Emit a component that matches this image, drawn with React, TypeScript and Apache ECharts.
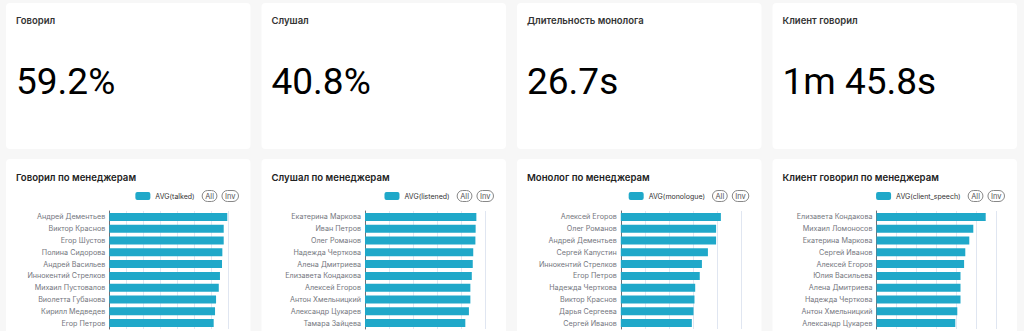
import React, { useEffect, useRef } from "react";
import * as echarts from "echarts";

const kpiTitles = ["Говорил", "Слушал", "Длительность монолога", "Клиент говорил"];
const kpiValues = ["59.2%", "40.8%", "26.7s", "1m 45.8s"];
const chartTitles = [
  "Говорил по менеджерам",
  "Слушал по менеджерам",
  "Монолог по менеджерам",
  "Клиент говорил по менеджерам",
];
const seriesNames = ["AVG(talked)", "AVG(listened)", "AVG(monologue)", "AVG(client_speech)"];

const talkedManagers = [
  "Андрей Дементьев", "Виктор Краснов", "Егор Шустов", "Полина Сидорова", "Андрей Васильев",
  "Иннокентий Стрелков", "Михаил Пустовалов", "Виолетта Губанова", "Кирилл Медведев", "Егор Петров",
];
const talkedValues = [0.694, 0.673, 0.673, 0.665, 0.663, 0.651, 0.644, 0.628, 0.622, 0.614];

const listenedManagers = [
  "Екатерина Маркова", "Иван Петров", "Олег Романов", "Надежда Черткова", "Алена Дмитриева",
  "Елизавета Кондакова", "Алексей Егоров", "Антон Хмельницкий", "Александр Цукарев", "Тамара Зайцева",
];
const listenedValues = [0.464, 0.461, 0.46, 0.451, 0.449, 0.445, 0.439, 0.439, 0.433, 0.418];

const monologueManagers = [
  "Алексей Егоров", "Олег Романов", "Андрей Дементьев", "Сергей Капустин", "Иннокентий Стрелков",
  "Егор Петров", "Надежда Черткова", "Виктор Краснов", "Дарья Сергеева", "Сергей Иванов",
];
const monologueValues = [41.7, 39.7, 39.7, 36.3, 33.8, 32.9, 31.0, 30.7, 30.3, 29.6];

const clientManagers = [
  "Елизавета Кондакова", "Михаил Ломоносов", "Екатерина Маркова", "Сергей Иванов", "Алексей Егоров",
  "Юлия Васильева", "Алена Дмитриева", "Надежда Черткова", "Антон Хмельницкий", "Александр Цукарев",
];
const clientValues = [273, 242, 232, 222, 219, 210, 210, 210, 202, 197];

const axisMax = [0.7, 0.5, 50, 300];
const axisInterval = [0.1, 0.1, 10, 50];

export default function App() {
  const ref = useRef<HTMLDivElement>(null);
  useEffect(() => {
    if (!ref.current) return;
    const chart = echarts.init(ref.current, undefined, { renderer: "svg" });
    const font = "Inter, 'Noto Sans', sans-serif";
    const bigFont = "Roboto, 'Liberation Sans', sans-serif";
    const cardLeft = [6, 261.5, 517, 772.5];
    const cardW = 244.5;
    const gridLeft = [109.3, 365, 620.8, 876.5];
    const gridW = [119, 120, 120, 120];
    const legendRight = [785, 530, 274.7, 19];
    const names = [talkedManagers, listenedManagers, monologueManagers, clientManagers];
    const vals = [talkedValues, listenedValues, monologueValues, clientValues];

    const graphics: any[] = [];
    for (let i = 0; i < 4; i++) {
      graphics.push({
        type: "rect",
        z: -10,
        shape: { x: cardLeft[i], y: 3, width: cardW, height: 146, r: 4 },
        style: { fill: "#ffffff" },
      });
      graphics.push({
        type: "rect",
        z: -10,
        shape: { x: cardLeft[i], y: 159, width: cardW, height: 260, r: 4 },
        style: { fill: "#ffffff" },
      });
      graphics.push({
        type: "text",
        x: cardLeft[i] + 10,
        y: 20,
        style: {
          text: kpiTitles[i],
          font: `600 9.5px ${font}`,
          fill: "#333333",
          verticalAlign: "middle",
        },
      });
      graphics.push({
        type: "text",
        x: cardLeft[i] + 10,
        y: 81,
        style: {
          text: kpiValues[i],
          font: `400 37px ${bigFont}`,
          fill: "#000000",
          verticalAlign: "middle",
        },
      });
      graphics.push({
        type: "text",
        x: cardLeft[i] + 10,
        y: 177.5,
        style: {
          text: chartTitles[i],
          font: `600 9.6px ${font}`,
          fill: "#222222",
          verticalAlign: "middle",
        },
      });
    }

    chart.setOption({
      animation: false,
      backgroundColor: "#F7F7F7",
      textStyle: { fontFamily: font },
      graphic: graphics,
      legend: [0, 1, 2, 3].map((i) => ({
        data: [seriesNames[i]],
        right: legendRight[i],
        top: 190,
        padding: 0,
        itemWidth: 15,
        itemHeight: 8,
        itemGap: 6,
        textStyle: { fontSize: 7, color: "#333333", fontFamily: font },
        selector: [
          { type: "all", title: "All" },
          { type: "inverse", title: "Inv" },
        ],
        selectorItemGap: 4,
        selectorButtonGap: 7,
        selectorLabel: {
          fontSize: 7.5,
          padding: [1.5, 3, 1.5, 3],
          borderRadius: 6,
          borderWidth: 1,
          borderColor: "#888888",
          color: "#555555",
          fontFamily: font,
        },
      })),
      grid: [0, 1, 2, 3].map((i) => ({
        left: gridLeft[i],
        top: 211,
        width: gridW[i],
        height: 118,
        containLabel: false,
      })),
      xAxis: [0, 1, 2, 3].map((i) => ({
        type: "value",
        gridIndex: i,
        min: 0,
        max: axisMax[i],
        interval: axisInterval[i],
        axisLabel: { show: false },
        splitLine: { lineStyle: { color: "#E0E6F1" } },
      })),
      yAxis: [0, 1, 2, 3].map((i) => ({
        type: "category",
        gridIndex: i,
        inverse: true,
        data: names[i],
        axisLine: { lineStyle: { color: "#6E7079" } },
        axisTick: { length: 4 },
        axisLabel: { fontSize: 7.2, color: "#74767E", margin: 4, interval: 0 },
      })),
      series: [0, 1, 2, 3].map((i) => ({
        type: "bar",
        name: seriesNames[i],
        xAxisIndex: i,
        yAxisIndex: i,
        data: vals[i],
        barWidth: 8,
        itemStyle: { color: "#1FA8C9" },
      })),
    });
    return () => chart.dispose();
  }, []);
  return (
    <div
      ref={ref}
      style={{ position: "fixed", left: 0, top: 0, width: 1024, height: 331, overflow: "hidden" }}
    />
  );
}
